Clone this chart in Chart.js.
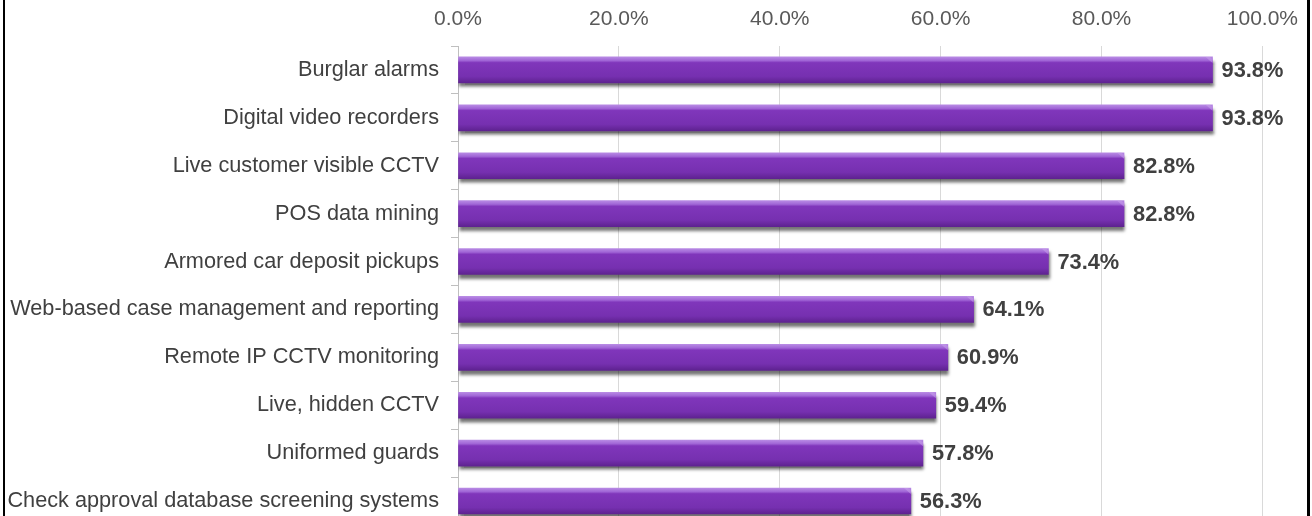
<!DOCTYPE html>
<html>
<head>
<meta charset="utf-8">
<title>Security measures</title>
<script src="https://cdn.jsdelivr.net/npm/chart.js@4.4.1/dist/chart.umd.min.js"></script>
<style>
    html, body { margin: 0; padding: 0; background: #ffffff; }
    #frame { position: relative; width: 1312px; height: 516px; overflow: hidden; }
    #barChart { position: absolute; left: 0; top: 0; }
    .edge { position: absolute; top: 0; height: 516px; background: #000000; }
</style>
</head>
<body>
<div id="frame">
    <canvas id="barChart" width="1312" height="550"></canvas>
    <div class="edge" style="left:3px;width:2px"></div>
    <div class="edge" style="left:1307px;width:3px"></div>
</div>
<script>
// Datos del gráfico
const categorias = [
    'Burglar alarms',
    'Digital video recorders',
    'Live customer visible CCTV',
    'POS data mining',
    'Armored car deposit pickups',
    'Web-based case management and reporting',
    'Remote IP CCTV monitoring',
    'Live, hidden CCTV',
    'Uniformed guards',
    'Check approval database screening systems'
];
const porcentajes = [93.8, 93.8, 82.8, 82.8, 73.4, 64.1, 60.9, 59.4, 57.8, 56.3];
const ticksX = [0, 20, 40, 60, 80, 100];

const fontFamily = '"Liberation Sans", Arial, sans-serif';
let barChart = null;

// Degradado vertical de cada barra (efecto 3D)
function barGradient(context) {
    const chart = context.chart;
    const { ctx, chartArea, scales } = chart;
    if (!chartArea || !scales.y) return '#7530b0';
    const yc = scales.y.getPixelForValue(context.dataIndex);
    const g = ctx.createLinearGradient(0, yc - 13, 0, yc + 13);
    g.addColorStop(0, '#b88ae4');
    g.addColorStop(0.14, '#a065d6');
    g.addColorStop(0.22, '#8036bb');
    g.addColorStop(0.75, '#7630b0');
    g.addColorStop(1, '#5e2290');
    return g;
}

// Sombra de las barras
const barShadow = {
    id: 'barShadow',
    beforeDatasetDraw(chart) {
        const ctx = chart.ctx;
        ctx.save();
        ctx.shadowColor = 'rgba(0, 0, 0, 0.55)';
        ctx.shadowBlur = 3;
        ctx.shadowOffsetX = 1;
        ctx.shadowOffsetY = 4;
    },
    afterDatasetDraw(chart) {
        chart.ctx.restore();
    }
};

// Etiquetas de valor al final de cada barra
const valueLabels = {
    id: 'valueLabels',
    afterDatasetsDraw(chart) {
        const ctx = chart.ctx;
        const meta = chart.getDatasetMeta(0);
        ctx.save();
        ctx.font = 'bold 21.8px ' + fontFamily;
        ctx.textAlign = 'left';
        ctx.textBaseline = 'middle';
        meta.data.forEach((bar, i) => {
            // bisel en el extremo derecho
            const top = bar.y - bar.height / 2;
            ctx.fillStyle = 'rgba(200, 160, 235, 0.55)';
            ctx.beginPath();
            ctx.moveTo(bar.x - 7, top);
            ctx.lineTo(bar.x, top + 6);
            ctx.lineTo(bar.x, top + 2);
            ctx.lineTo(bar.x - 3, top);
            ctx.closePath();
            ctx.fill();
            ctx.fillStyle = '#404040';
            ctx.fillText(porcentajes[i].toFixed(1) + '%', bar.x + 9, bar.y + 1);
        });
        ctx.restore();
    }
};

function initBarChart() {
    const ctx = document.getElementById('barChart');
    if (!ctx) return;

    barChart = new Chart(ctx, {
        type: 'bar',
        data: {
            labels: categorias,
            datasets: [{
                data: porcentajes,
                backgroundColor: barGradient,
                borderWidth: 0,
                barThickness: 26
            }]
        },
        options: {
            responsive: false,
            animation: false,
            indexAxis: 'y',
            layout: { padding: { left: 0, right: 49, top: 0, bottom: 0 } },
            scales: {
                x: {
                    position: 'top',
                    min: 0,
                    max: 100,
                    afterBuildTicks: (scale) => {
                        scale.ticks = ticksX.map(v => ({ value: v }));
                    },
                    afterFit: (scale) => { scale.height = 46; },
                    grid: { color: '#d9d9d9', drawTicks: false },
                    border: { display: false },
                    ticks: {
                        color: '#595959',
                        padding: 14,
                        font: { size: 21, family: fontFamily },
                        callback: (value) => Number(value).toFixed(1) + '%'
                    }
                },
                y: {
                    afterFit: (scale) => { scale.width = 458; },
                    grid: {
                        color: '#bfbfbf',
                        drawOnChartArea: false,
                        tickLength: 7,
                        offset: true
                    },
                    border: { color: '#bfbfbf' },
                    ticks: {
                        color: '#404040',
                        padding: 12,
                        autoSkip: false,
                        font: { size: 21.7, family: fontFamily }
                    }
                }
            },
            plugins: {
                legend: { display: false },
                tooltip: { enabled: false }
            }
        },
        plugins: [barShadow, valueLabels]
    });
}

document.addEventListener('DOMContentLoaded', initBarChart);
</script>
</body>
</html>
